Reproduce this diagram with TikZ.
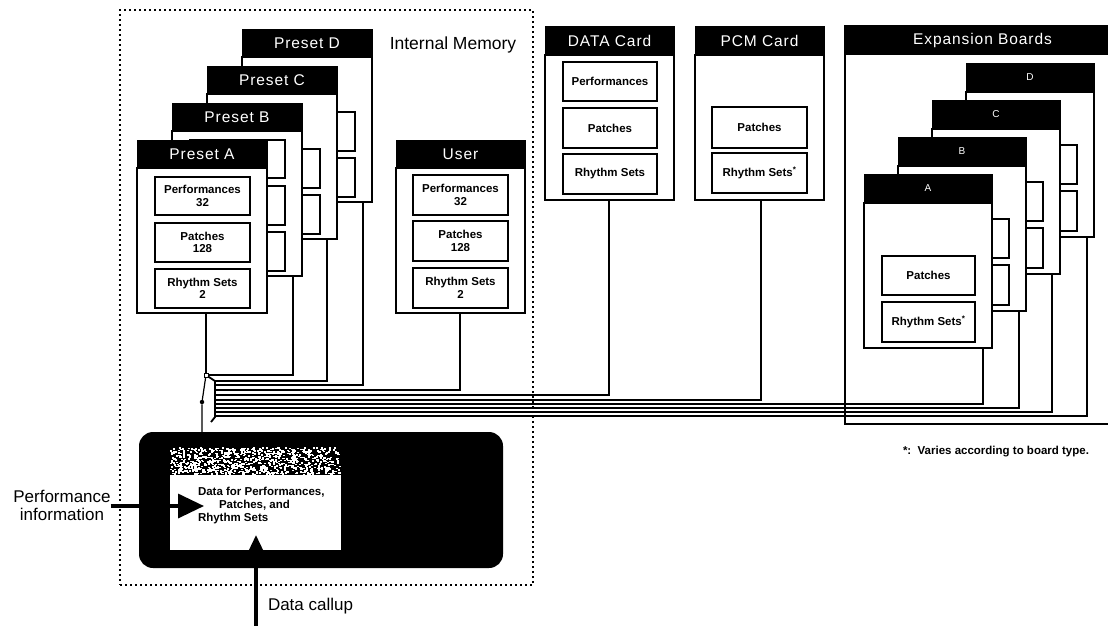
\documentclass[tikz,border=0pt]{standalone}
\usepackage{fontspec}
\setmainfont{Liberation Sans}
\newfontfamily\hdrf[LetterSpace=6]{Liberation Sans}
\usetikzlibrary{arrows.meta}
\begin{document}
\begin{tikzpicture}[x=1pt,y=-1pt,
  every node/.style={inner sep=0pt, outer sep=0pt},
  hdr/.style={draw=black, fill=black, text=white, anchor=north west, line width=1pt,
    font=\hdrf\fontsize{15.5}{16}\selectfont},
  lhdr/.style={hdr, font=\fontsize{10}{10}\selectfont},
  body/.style={draw=black, fill=white, anchor=north west, line width=1.2pt},
  ibox/.style={draw=black, fill=white, anchor=north west, line width=1.2pt, align=center,
    font=\bfseries\fontsize{11.5}{12.5}\selectfont},
  wire/.style={draw=black, line width=1.2pt},
  lbl/.style={font=\fontsize{17}{18}\selectfont, align=center},
  smalltxt/.style={font=\bfseries\fontsize{11.5}{12}\selectfont, anchor=west},
  bigarrow/.style={line width=3.5pt},
  memframe/.style={draw=black, line width=2.6pt, dash pattern=on 2.4pt off 2.6pt, anchor=north west}
]
\useasboundingbox (0,0) rectangle (1108,625);

% ---------- Internal memory frame ----------
\node[memframe, minimum width=413pt, minimum height=575pt] (intmem) at (120,10) {};
\node[lbl, font=\fontsize{17.5}{18}\selectfont] (imlabel) at (453,45) {Internal Memory};

% ---------- Preset stack ----------
% Preset D
\node[body, minimum width=130pt, minimum height=145pt] (bD) at (242,57) {};
\node[hdr, minimum width=130pt, minimum height=28pt] (hD) at (242,29) {Preset D};
\node[ibox, minimum width=95pt, minimum height=39pt] (pD2) at (260,112) {};
\node[ibox, minimum width=95pt, minimum height=39pt] (pD3) at (260,158) {};
% Preset C
\node[body, minimum width=130pt, minimum height=145pt] (bC) at (207,94) {};
\node[hdr, minimum width=130pt, minimum height=28pt] (hC) at (207,66) {Preset C};
\node[ibox, minimum width=95pt, minimum height=39pt] (pC2) at (225,149) {};
\node[ibox, minimum width=95pt, minimum height=39pt] (pC3) at (225,195) {};
% Preset B
\node[body, minimum width=130pt, minimum height=145pt] (bB) at (172,131) {};
\node[hdr, minimum width=130pt, minimum height=28pt] (hB) at (172,103) {Preset B};
\node[ibox, minimum width=95pt, minimum height=38pt] (pB1) at (190,140) {};
\node[ibox, minimum width=95pt, minimum height=39pt] (pB2) at (190,186) {};
\node[ibox, minimum width=95pt, minimum height=39pt] (pB3) at (190,232) {};
% Preset A
\node[body, minimum width=130pt, minimum height=145pt] (bA) at (137,168) {};
\node[hdr, minimum width=130pt, minimum height=28pt] (hA) at (137,140) {Preset A};
\node[ibox, minimum width=95pt, minimum height=38pt] (pA1) at (155,177) {Performances\\32};
\node[ibox, minimum width=95pt, minimum height=39pt] (pA2) at (155,223) {Patches\\128};
\node[ibox, minimum width=95pt, minimum height=39pt] (pA3) at (155,269) {Rhythm Sets\\2};

% ---------- User ----------
\node[body, minimum width=129pt, minimum height=145pt] (bU) at (396,168) {};
\node[hdr, minimum width=129pt, minimum height=28pt] (hU) at (396,140) {User};
\node[ibox, minimum width=95pt, minimum height=40pt] (u1) at (413,175) {Performances\\32};
\node[ibox, minimum width=95pt, minimum height=40pt] (u2) at (413,221) {Patches\\128};
\node[ibox, minimum width=95pt, minimum height=40pt] (u3) at (413,268) {Rhythm Sets\\2};

% ---------- DATA Card ----------
\node[body, minimum width=129pt, minimum height=145pt] (bDC) at (545,55) {};
\node[hdr, minimum width=129pt, minimum height=29pt] (hDC) at (545,26) {DATA Card};
\node[ibox, minimum width=94pt, minimum height=39pt] (d1) at (563,62) {Performances};
\node[ibox, minimum width=94pt, minimum height=40pt] (d2) at (563,108) {Patches};
\node[ibox, minimum width=94pt, minimum height=40pt] (d3) at (563,154) {Rhythm Sets};

% ---------- PCM Card ----------
\node[body, minimum width=129pt, minimum height=145pt] (bPC) at (695,55) {};
\node[hdr, minimum width=129pt, minimum height=29pt] (hPC) at (695,26) {PCM Card};
\node[ibox, minimum width=95pt, minimum height=41pt] (c2) at (712,107) {Patches};
\node[ibox, minimum width=95pt, minimum height=40pt] (c3) at (712,153) {Rhythm Sets\textsuperscript{*}};

% ---------- Expansion boards ----------
\node[body, minimum width=275pt, minimum height=398pt] (bX) at (845,26) {};
\node[hdr, minimum width=275pt, minimum height=28pt] (hX) at (845,26) {Expansion Boards};
% D
\node[body, minimum width=128pt, minimum height=145pt] (bED) at (966,92) {};
\node[lhdr, minimum width=128pt, minimum height=29pt] (hED) at (966,63) {D};
\node[ibox, minimum width=93pt, minimum height=39pt] (eD2) at (984,145) {};
\node[ibox, minimum width=93pt, minimum height=40pt] (eD3) at (984,191) {};
% C
\node[body, minimum width=128pt, minimum height=145pt] (bEC) at (932,129) {};
\node[lhdr, minimum width=128pt, minimum height=29pt] (hEC) at (932,100) {C};
\node[ibox, minimum width=93pt, minimum height=39pt] (eC2) at (950,182) {};
\node[ibox, minimum width=93pt, minimum height=40pt] (eC3) at (950,228) {};
% B
\node[body, minimum width=128pt, minimum height=145pt] (bEB) at (898,166) {};
\node[lhdr, minimum width=128pt, minimum height=29pt] (hEB) at (898,137) {B};
\node[ibox, minimum width=93pt, minimum height=39pt] (eB2) at (916,219) {};
\node[ibox, minimum width=93pt, minimum height=40pt] (eB3) at (916,265) {};
% A
\node[body, minimum width=128pt, minimum height=145pt] (bEA) at (864,203) {};
\node[lhdr, minimum width=128pt, minimum height=29pt] (hEA) at (864,174) {A};
\node[ibox, minimum width=93pt, minimum height=39pt] (eA2) at (882,256) {Patches};
\node[ibox, minimum width=93pt, minimum height=40pt] (eA3) at (882,302) {Rhythm Sets\textsuperscript{*}};

% ---------- Connector bundle ----------
\node[draw=black, fill=white, line width=1pt, minimum size=4pt] (knot) at (206,375) {};
\coordinate (sp1) at (215,381);
\coordinate (sp2) at (215,417);
\coordinate (sp3) at (211,422);
\draw[wire, line width=1.8pt] (knot) -- (sp1) -- (sp2) -- (sp3);

\coordinate (xB) at (293,375);
\coordinate (xC) at (327,381);   \coordinate (eC) at (215,381);
\coordinate (xD) at (363,385);   \coordinate (eDx) at (215,385);
\coordinate (xU) at (460,390);   \coordinate (eU) at (215,390);
\coordinate (xDC) at (609,395);  \coordinate (eDC) at (215,395);
\coordinate (xPC) at (761,400);  \coordinate (ePC) at (215,400);
\coordinate (xEA) at (983,404);  \coordinate (eEA) at (215,404);
\coordinate (xEB) at (1019,408); \coordinate (eEB) at (215,408);
\coordinate (xEC) at (1052,412); \coordinate (eEC) at (215,412);
\coordinate (xED) at (1087,416); \coordinate (eED) at (215,416);

\draw[wire] (bA.south -| knot) -- (knot);
\draw[wire] (bB.south -| xB) -- (xB) -- (knot);
\draw[wire] (bC.south -| xC) -- (xC) -- (eC);
\draw[wire] (bD.south -| xD) -- (xD) -- (eDx);
\draw[wire] (bU.south -| xU) -- (xU) -- (eU);
\draw[wire] (bDC.south -| xDC) -- (xDC) -- (eDC);
\draw[wire] (bPC.south -| xPC) -- (xPC) -- (ePC);
\draw[wire] (bEA.south -| xEA) -- (xEA) -- (eEA);
\draw[wire] (bEB.south -| xEB) -- (xEB) -- (eEB);
\draw[wire] (bEC.south -| xEC) -- (xEC) -- (eEC);
\draw[wire] (bED.south -| xED) -- (xED) -- (eED);

% ---------- Storage (black box) ----------
\node[fill=black, rounded corners=14pt, minimum width=364pt, minimum height=136pt, anchor=north west] (stor) at (139,432) {};
\node[fill=black, minimum width=171pt, minimum height=28pt, anchor=north west] (band) at (170,447) {};
\pgfmathsetseed{7}
\foreach \i in {1,...,900} {
  \pgfmathsetmacro\rx{170+169*rnd}
  \pgfmathsetmacro\ry{447+26.5*rnd}
  \fill[white] (\rx,\ry) rectangle ++(2,1.5);
}
\node[fill=white, minimum width=171pt, minimum height=75pt, anchor=north west] (wa) at (170,475) {};
\node[smalltxt] (t1) at (198,492) {Data for Performances,};
\node[smalltxt] (t2) at (219,505) {Patches, and};
\node[smalltxt] (t3) at (198,519) {Rhythm Sets};

% trunk from bundle to storage
\node[circle, fill=black, minimum size=4.5pt] (dot) at (202,402) {};
\draw[wire] (knot) -- (dot) -- (dot |- stor.north);

% ---------- inputs ----------
\node[lbl] (pinfo) at (62,505) {Performance\\information};
\coordinate (tipP) at (204,506);
\draw[bigarrow, -{Triangle[length=26pt,width=24pt]}] (pinfo.east |- tipP) -- (tipP);

\coordinate (dcStart) at (256,626);
\coordinate (tipD) at (256,535);
\draw[bigarrow, -{Triangle[length=17pt,width=15pt]}] (dcStart) -- (tipD);
\node[lbl, anchor=west] (dcl) at (268,606) {Data callup};

% ---------- footnote ----------
\node[smalltxt, font=\bfseries\fontsize{11.5}{12}\selectfont] (fn) at (903,452) {*:\ \ Varies according to board type.};
\end{tikzpicture}
\end{document}
